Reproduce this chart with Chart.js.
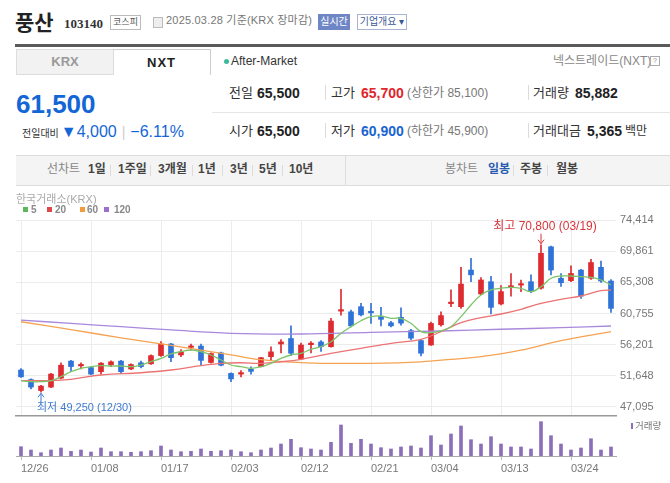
<!DOCTYPE html>
<html lang="ko">
<head>
<meta charset="utf-8">
<script src="https://cdn.jsdelivr.net/npm/chart.js@4.4.1/dist/chart.umd.min.js"></script>
<style>
  body { margin: 0; width: 670px; height: 483px; position: relative; overflow: hidden; background: #fff;
    font-family: "Liberation Sans", "Noto Sans CJK KR", sans-serif; color: #333; }
  .a { position: absolute; white-space: nowrap; line-height: 1; }
  .b { font-weight: bold; }
  .sep { position: absolute; width: 1px; background: #dcdcdc; }
  canvas { position: absolute; left: 0; }
</style>
</head>
<body>
<!-- title row -->
<div class="a b" style="left:15px;top:11px;font-size:21px;color:#222;font-family:'Noto Sans CJK KR';">풍산</div>
<div class="a b" style="left:64px;top:17px;font-size:13px;color:#333;font-family:'Liberation Serif';">103140</div>
<div class="a" style="left:110px;top:15px;width:29px;height:13px;border:1px solid #bbb;font-size:9px;line-height:13px;text-align:center;color:#555;">코스피</div>
<div class="a" style="left:153px;top:17px;width:8px;height:9px;border:1px solid #bbb;background:#eee;"></div>
<div class="a" style="left:166px;top:15px;font-size:11px;color:#777;letter-spacing:0.2px;">2025.03.28 기준(KRX 장마감)</div>
<div class="a" style="left:318px;top:14px;width:32px;height:16px;background:#6f86c6;color:#fff;font-size:10px;line-height:16px;text-align:center;">실시간</div>
<div class="a" style="left:357px;top:14px;width:48px;height:14px;border:1px solid #a9b4d3;color:#3b5998;font-size:10px;line-height:14px;text-align:center;">기업개요 ▾</div>
<div class="a" style="left:15px;top:44px;width:655px;height:3px;background:#5a5a5a;"></div>

<!-- market tabs -->
<div class="a b" style="left:16px;top:49px;width:96px;height:24px;background:#f2f2f2;border:1px solid #ddd;font-size:13px;line-height:24px;text-align:center;color:#999;">KRX</div>
<div class="a b" style="left:113px;top:49px;width:97px;height:25px;border-top:1px solid #ccc;border-right:1px solid #ccc;font-size:13px;line-height:25px;text-align:center;color:#222;letter-spacing:1px;">NXT</div>
<div class="a" style="left:224px;top:59px;width:5px;height:5px;border-radius:3px;background:#3cb99a;"></div>
<div class="a" style="left:231px;top:55px;font-size:12px;color:#333;">After-Market</div>
<div class="a" style="left:553px;top:55px;font-size:12px;color:#888;">넥스트레이드(NXT)</div>
<div class="a" style="left:650px;top:56px;width:8px;height:8px;border:1px solid #aaa;font-size:7px;line-height:8px;text-align:center;color:#888;">?</div>

<!-- current price -->
<div class="a b" style="left:16px;top:91px;font-size:26px;color:#1366d6;">61,500</div>
<div class="a" style="left:22px;top:124px;display:flex;align-items:baseline;">
  <span style="font-size:10px;color:#333;">전일대비</span>
  <span style="font-size:16px;color:#1366d6;margin-left:2px;">▼4,000</span>
  <span style="font-size:14px;color:#ccc;margin:0 5px;">|</span>
  <span style="font-size:16px;color:#1366d6;">−6.11%</span>
</div>

<!-- quote table -->
<div class="a" style="left:229px;top:86px;font-size:13px;color:#333;">전일</div>
<div class="a b" style="left:257px;top:86px;font-size:14px;color:#222;">65,500</div>
<div class="sep" style="left:325px;top:85px;height:15px;"></div>
<div class="a" style="left:331px;top:86px;font-size:13px;color:#333;">고가</div>
<div class="a b" style="left:361px;top:86px;font-size:14px;color:#e0262b;">65,700</div>
<div class="a" style="left:407px;top:87px;font-size:12px;color:#777;">(상한가 85,100)</div>
<div class="sep" style="left:528px;top:85px;height:15px;"></div>
<div class="a" style="left:533px;top:86px;font-size:13px;color:#333;">거래량</div>
<div class="a b" style="left:575px;top:86px;font-size:14px;color:#222;">85,882</div>
<div class="a" style="left:212px;top:112px;width:458px;height:1px;background:#e6e6e6;"></div>
<div class="a" style="left:229px;top:124px;font-size:13px;color:#333;">시가</div>
<div class="a b" style="left:257px;top:124px;font-size:14px;color:#222;">65,500</div>
<div class="sep" style="left:325px;top:123px;height:15px;"></div>
<div class="a" style="left:331px;top:124px;font-size:13px;color:#333;">저가</div>
<div class="a b" style="left:361px;top:124px;font-size:14px;color:#1a63d2;">60,900</div>
<div class="a" style="left:407px;top:125px;font-size:12px;color:#777;">(하한가 45,900)</div>
<div class="sep" style="left:528px;top:123px;height:15px;"></div>
<div class="a" style="left:533px;top:124px;font-size:13px;color:#333;">거래대금</div>
<div class="a b" style="left:587px;top:124px;font-size:14px;color:#222;">5,365</div>
<div class="a" style="left:625px;top:125px;font-size:12px;color:#333;">백만</div>

<!-- period bar -->
<div class="a" style="left:16px;top:155px;width:654px;height:29px;background:#f4f4f4;border-top:1px solid #ddd;border-bottom:1px solid #ddd;"></div>
<div class="sep" style="left:345px;top:156px;height:29px;"></div>
<div class="a" style="left:47px;top:163px;font-size:12px;color:#888;">선차트</div>
<div class="a b" style="left:88px;top:163px;font-size:12px;color:#444;">1일</div>
<div class="a b" style="left:118px;top:163px;font-size:12px;color:#444;">1주일</div>
<div class="a b" style="left:158px;top:163px;font-size:12px;color:#444;">3개월</div>
<div class="a b" style="left:198px;top:163px;font-size:12px;color:#444;">1년</div>
<div class="a b" style="left:230px;top:163px;font-size:12px;color:#444;">3년</div>
<div class="a b" style="left:259px;top:163px;font-size:12px;color:#444;">5년</div>
<div class="a b" style="left:289px;top:163px;font-size:12px;color:#444;">10년</div>
<div class="sep" style="left:110px;top:165px;height:11px;"></div>
<div class="sep" style="left:150px;top:165px;height:11px;"></div>
<div class="sep" style="left:192px;top:165px;height:11px;"></div>
<div class="sep" style="left:222px;top:165px;height:11px;"></div>
<div class="sep" style="left:252px;top:165px;height:11px;"></div>
<div class="sep" style="left:282px;top:165px;height:11px;"></div>
<div class="a" style="left:445px;top:163px;font-size:12px;color:#888;">봉차트</div>
<div class="a b" style="left:488px;top:163px;font-size:12px;color:#2a5db0;">일봉</div>
<div class="a b" style="left:520px;top:163px;font-size:12px;color:#444;">주봉</div>
<div class="a b" style="left:556px;top:163px;font-size:12px;color:#444;">월봉</div>
<div class="sep" style="left:513px;top:165px;height:11px;"></div>
<div class="sep" style="left:547px;top:165px;height:11px;"></div>

<canvas id="priceChart" width="670" height="223" style="top:195px;"></canvas>
<canvas id="volChart" width="670" height="67" style="top:416px;"></canvas>

<!-- chart legends -->
<div class="a" style="left:16px;top:194px;font-size:11px;color:#aaa;">한국거래소(KRX)</div>
<div class="a" style="left:23px;top:207px;width:5px;height:5px;background:#5cb85c;"></div>
<div class="a b" style="left:31px;top:205px;font-size:10px;color:#888;">5</div>
<div class="a" style="left:47px;top:207px;width:5px;height:5px;background:#e04848;"></div>
<div class="a b" style="left:55px;top:205px;font-size:10px;color:#888;">20</div>
<div class="a" style="left:80px;top:207px;width:5px;height:5px;background:#f39c3c;"></div>
<div class="a b" style="left:87px;top:205px;font-size:10px;color:#888;">60</div>
<div class="a" style="left:104px;top:207px;width:5px;height:5px;background:#9b6fd0;"></div>
<div class="a b" style="left:114px;top:205px;font-size:10px;color:#888;">120</div>
<div class="a" style="left:631px;top:423px;width:2px;height:6px;background:#8b70b9;"></div>
<div class="a" style="left:635px;top:421px;font-size:9.5px;color:#777;">거래량</div>

<script>
// daily candles, 2024.12.26 ~ 2025.03.28 (KRX)
const dates = ["12/26","12/27","12/30","01/02","01/03","01/06","01/07","01/08","01/09","01/10",
  "01/13","01/14","01/15","01/16","01/17","01/20","01/21","01/22","01/23","01/24",
  "01/31","02/03","02/04","02/05","02/06","02/07","02/10","02/11","02/12","02/13",
  "02/14","02/17","02/18","02/19","02/20","02/21","02/24","02/25","02/26","02/27",
  "02/28","03/04","03/05","03/06","03/07","03/10","03/11","03/12","03/13","03/14",
  "03/17","03/18","03/19","03/20","03/21","03/24","03/25","03/26","03/27","03/28"];
const shownDates = ["12/26","01/08","01/17","02/03","02/12","02/21","03/04","03/13","03/24"];

const opens = [52500,51100,49500,50000,51300,53800,53100,52850,52250,53250,
  53800,52650,53550,53400,54600,56300,54700,55800,56000,53600,
  55000,52000,51900,52600,53000,54450,56300,57100,54100,56200,
  56600,55900,61100,61000,61750,61000,60300,59400,60200,58250,
  56800,56150,59100,62200,61750,67100,63600,65400,62150,64600,
  64900,65400,64450,70500,65900,65550,67100,65900,67500,65500];
const highs = [52700,51200,50250,52000,53550,53900,53550,52950,53600,53850,
  53900,53400,53800,54700,56650,56400,55500,56300,56300,55000,
  55100,52100,52400,52950,54350,55900,56950,58950,56450,56650,
  56800,60050,64300,61250,62250,62250,61650,59600,61600,58450,
  56900,59500,61000,64200,67500,68800,66000,66200,64850,66600,
  65650,66400,70800,70600,66600,67700,67200,68650,68400,65700];
const lows = [51400,49750,49250,49900,51200,52250,52650,51800,51900,53000,
  51950,52550,52800,53300,54500,53700,54450,55450,53200,53500,
  53100,50800,51500,51900,52950,53900,55000,54600,54000,55000,
  55200,55850,60500,58800,60400,59300,58950,58800,59050,56900,
  54550,56100,58900,61750,61500,65400,63500,60700,62000,63300,
  63950,63800,64300,66400,64700,65400,62950,65750,65300,60900];
const closes = [51500,50000,50150,51900,53200,53000,53300,51900,53500,53700,
  52250,53300,53000,54600,56300,54300,55150,55950,53900,54900,
  53200,51200,52100,52300,54300,55150,56600,54950,56150,56350,
  55900,59650,61200,58950,60550,60850,59900,58950,59350,57150,
  54950,59300,60450,62300,65050,66400,65650,61650,63950,64700,
  65000,63950,69550,67100,65250,66600,63300,68200,65500,61500];
const volumes = [93000,60000,33000,60000,80000,47000,60000,40000,80000,43000,
  43000,37000,43000,53000,100000,60000,43000,47000,70000,47000,
  53000,60000,43000,33000,60000,80000,120000,167000,83000,70000,
  60000,137000,310000,127000,167000,120000,83000,70000,90000,100000,
  80000,203000,110000,220000,300000,163000,120000,193000,120000,90000,
  90000,70000,343000,203000,120000,60000,80000,173000,60000,90000];

// moving averages
const ma5 = [50940,50790,50790,50940,51520,52250,52750,52980,53130,53080,
  53080,52980,53230,53710,54210,54840,55170,55420,55170,54690,
  53960,53230,52980,52750,52980,53480,54210,54690,54940,55520,
  55900,56630,57860,58830,59700,60290,60390,60050,60050,59320,
  58100,57950,58200,58830,60290,62000,63460,64190,64440,64580,
  64440,63940,64670,65900,66230,66230,66130,66040,65650,64920];
const ma20Idx = [0,3,5,8,12,15,18,20,22,24,26,28,31,34,37,40,42,44,46,48,50,52,54,56,58,59];
const ma20Val = [50940,50950,51140,51770,52100,52500,53130,53480,53560,53480,53700,54060,54940,
  55670,56400,56980,58100,59410,60140,60680,61370,62240,62830,63310,64090,64190];
const ma60Idx = [0,5,10,15,21,24,27,30,35,40,43,46,50,54,59];
const ma60Val = [59550,58400,57200,56100,54700,54000,53650,53480,53480,53700,54050,54450,55400,56800,58100];
const ma120Idx = [0,5,10,15,21,28,35,42,48,54,59];
const ma120Val = [59800,59300,58830,58350,57860,57760,58000,58200,58450,58680,58930];

const yTicks = [47095,51648,56201,60755,65308,69861,74414];

const upColor = "#dd2b2f";
const downColor = "#2f72d8";
const candleColors = closes.map((c, i) => (c >= opens[i] ? upColor : downColor));
const fmt = (v) => v.toLocaleString("en-US");
const pts = (idx, vals) => idx.map((i, k) => ({ x: dates[i], y: vals[k] }));
const isShown = (i) => shownDates.includes(dates[i]);
const noPad = (s) => { s.paddingTop = 0; s.paddingBottom = 0; s.paddingLeft = 0; s.paddingRight = 0; };

// high / low markers
const markPlugin = {
  id: "marks",
  afterDatasetsDraw(chart) {
    const { ctx, scales } = chart;
    const hv = Math.max(...highs), hi = highs.indexOf(hv);
    const lv = Math.min(...lows), li = lows.indexOf(lv);
    const hx = scales.x.getPixelForValue(hi), hy = scales.y.getPixelForValue(hv);
    const lx = scales.x.getPixelForValue(li), ly = scales.y.getPixelForValue(lv);
    ctx.save();
    ctx.lineWidth = 1;
    ctx.strokeStyle = ctx.fillStyle = "#d8343a";
    ctx.beginPath();
    ctx.moveTo(hx, hy - 11); ctx.lineTo(hx, hy - 1);
    ctx.moveTo(hx - 3, hy - 5); ctx.lineTo(hx, hy - 1); ctx.lineTo(hx + 3, hy - 5);
    ctx.stroke();
    ctx.font = "12px 'Liberation Sans', 'Noto Sans CJK KR'";
    ctx.textAlign = "center";
    ctx.textBaseline = "bottom";
    ctx.fillText("최고 " + fmt(hv) + " (" + dates[hi] + ")", hx + 4, hy - 12);
    ctx.strokeStyle = ctx.fillStyle = "#3d7bd0";
    ctx.beginPath();
    ctx.moveTo(lx, ly + 1); ctx.lineTo(lx, ly + 9);
    ctx.moveTo(lx - 3, ly + 5); ctx.lineTo(lx, ly + 1); ctx.lineTo(lx + 3, ly + 5);
    ctx.stroke();
    ctx.font = "11px 'Liberation Sans', 'Noto Sans CJK KR'";
    ctx.textAlign = "left";
    ctx.textBaseline = "top";
    ctx.fillText("최저 " + fmt(lv) + " (" + dates[li] + ")", lx - 4, ly + 10);
    ctx.restore();
  },
};

const lineStyle = { type: "line", pointRadius: 0, borderWidth: 1.3, tension: 0.4, spanGaps: true, fill: false };

new Chart(document.getElementById("priceChart").getContext("2d"), {
  type: "bar",
  data: {
    labels: dates,
    datasets: [
      { ...lineStyle, label: "5", data: ma5, borderColor: "#7cc46a", order: 0 },
      { ...lineStyle, label: "20", data: pts(ma20Idx, ma20Val), borderColor: "#ec7373", order: 0 },
      { ...lineStyle, label: "60", data: pts(ma60Idx, ma60Val), borderColor: "#f5a352", order: 0 },
      { ...lineStyle, label: "120", data: pts(ma120Idx, ma120Val), borderColor: "#a889dc", order: 0 },
      {
        label: "body",
        data: opens.map((o, i) => [o, closes[i]]),
        backgroundColor: candleColors,
        barThickness: 5,
        minBarLength: 1.5,
        grouped: false,
        order: 5,
      },
      {
        label: "wick",
        data: lows.map((l, i) => [l, highs[i]]),
        backgroundColor: candleColors,
        barThickness: 1,
        grouped: false,
        order: 6,
      },
    ],
  },
  options: {
    responsive: false,
    animation: false,
    layout: { padding: { left: 16, top: 25, right: 0, bottom: 2 } },
    plugins: { legend: { display: false }, tooltip: { enabled: false } },
    scales: {
      x: {
        ticks: { display: false, autoSkip: false },
        grid: {
          offset: false,
          drawTicks: false,
          color: (c) => (isShown(c.index) ? "#ececec" : "rgba(0,0,0,0)"),
        },
        border: { color: "#999", width: 1.5 },
        afterFit: (s) => { s.height = 0; noPad(s); },
      },
      y: {
        position: "right",
        min: 45778,
        max: 74414,
        afterBuildTicks: (s) => { s.ticks = yTicks.map((v) => ({ value: v })); },
        ticks: { color: "#777", padding: 4, font: { family: "Liberation Sans", size: 11 }, callback: (v) => fmt(v) },
        grid: { color: "#ececec", drawTicks: false },
        border: { display: false },
        afterFit: (s) => { s.width = 54; noPad(s); },
      },
    },
  },
  plugins: [markPlugin],
});

new Chart(document.getElementById("volChart").getContext("2d"), {
  type: "bar",
  data: {
    labels: dates,
    datasets: [
      { label: "거래량", data: volumes, backgroundColor: "#8b70b9", barThickness: 3 },
    ],
  },
  options: {
    responsive: false,
    animation: false,
    layout: { padding: { left: 16, top: 4, right: 54, bottom: 0 } },
    plugins: { legend: { display: false }, tooltip: { enabled: false } },
    scales: {
      x: {
        ticks: {
          autoSkip: false,
          maxRotation: 0,
          align: "start",
          padding: 2,
          color: "#777",
          font: { family: "Liberation Sans", size: 11 },
          callback: (v, i) => (isShown(i) ? dates[i] : ""),
        },
        grid: {
          offset: false,
          drawOnChartArea: false,
          tickLength: 4,
          color: (c) => (isShown(c.index) ? "#bbb" : "rgba(0,0,0,0)"),
        },
        border: { color: "#aaa", width: 1 },
        afterFit: (s) => { s.height = 27; noPad(s); },
      },
      y: { display: false, min: 0, max: 360000 },
    },
  },
});
</script>
</body>
</html>
